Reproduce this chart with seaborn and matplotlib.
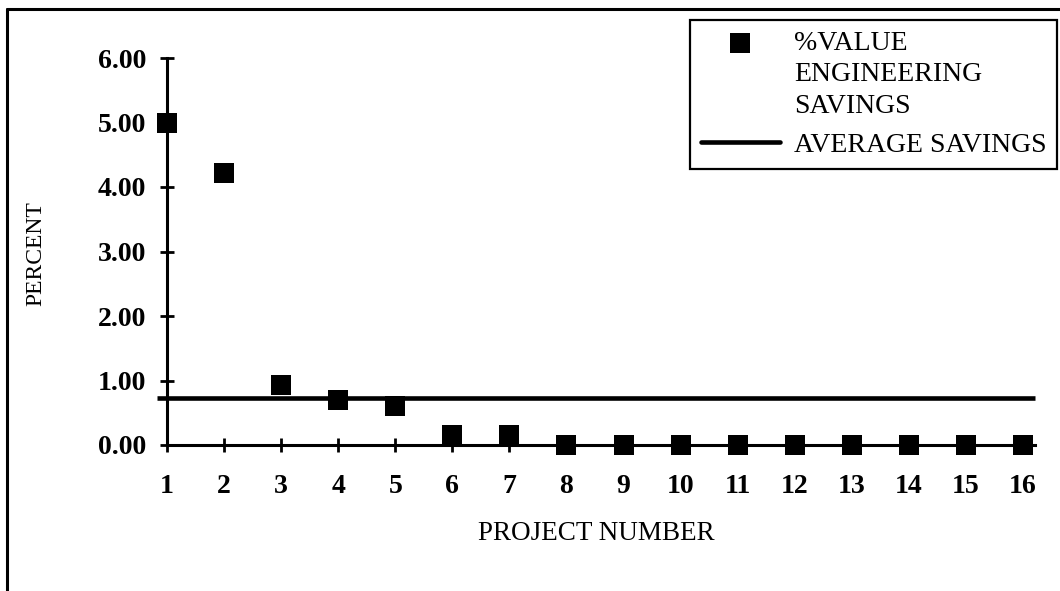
import numpy as np
import pandas as pd
import matplotlib
matplotlib.use("Agg")
import matplotlib.pyplot as plt
import seaborn as sns
from matplotlib.lines import Line2D
from matplotlib.legend_handler import HandlerLine2D

# Percent value-engineering savings per project
project_numbers = list(range(1, 17))
pct_savings = [5.00, 4.22, 0.93, 0.70, 0.60, 0.16, 0.16,
               0.00, 0.00, 0.00, 0.00, 0.00, 0.00, 0.00, 0.00, 0.00]
y_ticks = [0, 1, 2, 3, 4, 5, 6]
y_tick_labels = ["0.00", "1.00", "2.00", "3.00", "4.00", "5.00", "6.00"]
x_tick_labels = [str(p) for p in project_numbers]
series_label = "%VALUE\nENGINEERING\nSAVINGS"
average_label = "AVERAGE SAVINGS"

df = pd.DataFrame({"project": project_numbers, "savings": pct_savings})
average_savings = df["savings"].mean()

sns.set_theme(style="white")
plt.rcParams["font.family"] = ["Liberation Serif", "DejaVu Serif"]
plt.rcParams["text.color"] = "black"


class FirstLineMarkerHandler(HandlerLine2D):
    """Places the legend marker beside the first line of a multi-line label."""

    def __init__(self, rise, **kw):
        super().__init__(**kw)
        self.rise = rise

    def create_artists(self, legend, orig_handle, xdescent, ydescent,
                       width, height, fontsize, trans):
        artists = super().create_artists(legend, orig_handle, xdescent, ydescent,
                                         width, height, fontsize, trans)
        for a in artists:
            a.set_ydata(np.asarray(a.get_ydata()) + self.rise * fontsize)
        return artists


W, H = 1060, 591
fig = plt.figure(figsize=(W / 100, H / 100), dpi=100)
ax = fig.add_axes([167 / W, 1 - 445 / H, (1035 - 167) / W, (445 - 58) / H])

sns.scatterplot(data=df, x="project", y="savings", marker="s", s=200,
                color="black", linewidth=0, ax=ax, clip_on=False, zorder=4,
                legend=False)
ax.axhline(average_savings, xmin=-0.011, xmax=1, color="black", lw=3.3,
           clip_on=False, solid_capstyle="butt", zorder=3)

ax.set_xlim(1, 16.21)
ax.set_ylim(0, 6)
ax.set_xticks(project_numbers)
ax.set_xticklabels(x_tick_labels, fontsize=20, fontweight="bold")
ax.set_yticks(y_ticks)
ax.set_yticklabels(y_tick_labels, fontsize=20, fontweight="bold")
ax.tick_params(axis="both", direction="inout", length=10, width=2,
               color="black", labelcolor="black", bottom=True, left=True)
ax.tick_params(axis="x", pad=16)
ax.tick_params(axis="y", pad=10)

for side in ("top", "right"):
    ax.spines[side].set_visible(False)
for side in ("left", "bottom"):
    ax.spines[side].set_color("black")
    ax.spines[side].set_linewidth(2.2)

ax.set_xlabel("PROJECT NUMBER", fontsize=19.5, color="black")
ax.xaxis.set_label_coords(0.495, -0.196)
ax.set_ylabel("PERCENT", fontsize=17, color="black")
ax.yaxis.set_label_coords(-0.139, 0.494)

marker_handle = Line2D([], [], marker="s", markersize=14, linestyle="none",
                       color="black", markeredgewidth=0)
line_handle = Line2D([], [], color="black", lw=3.3)
leg = fig.legend(handles=[marker_handle, line_handle],
                 labels=[series_label, average_label],
                 loc="upper right", bbox_to_anchor=(1057 / W, 1 - 20 / H),
                 bbox_transform=fig.transFigure, fontsize=20,
                 frameon=True, fancybox=False, edgecolor="black", framealpha=1,
                 borderpad=0.38, labelspacing=0.5, handlelength=2.85,
                 handletextpad=0.5, borderaxespad=0,
                 handler_map={marker_handle: FirstLineMarkerHandler(rise=1.14, numpoints=1)})
leg.get_frame().set_linewidth(1.6)
leg.get_texts()[0].set_linespacing(1.35)

# Page frame along the top and left edges
fig.add_artist(Line2D([7 / W, 1], [1 - 9 / H, 1 - 9 / H], transform=fig.transFigure,
                      color="black", lw=2.2))
fig.add_artist(Line2D([7 / W, 7 / W], [0, 1 - 9 / H], transform=fig.transFigure,
                      color="black", lw=2.2))

fig.savefig("out.png", dpi=100)
